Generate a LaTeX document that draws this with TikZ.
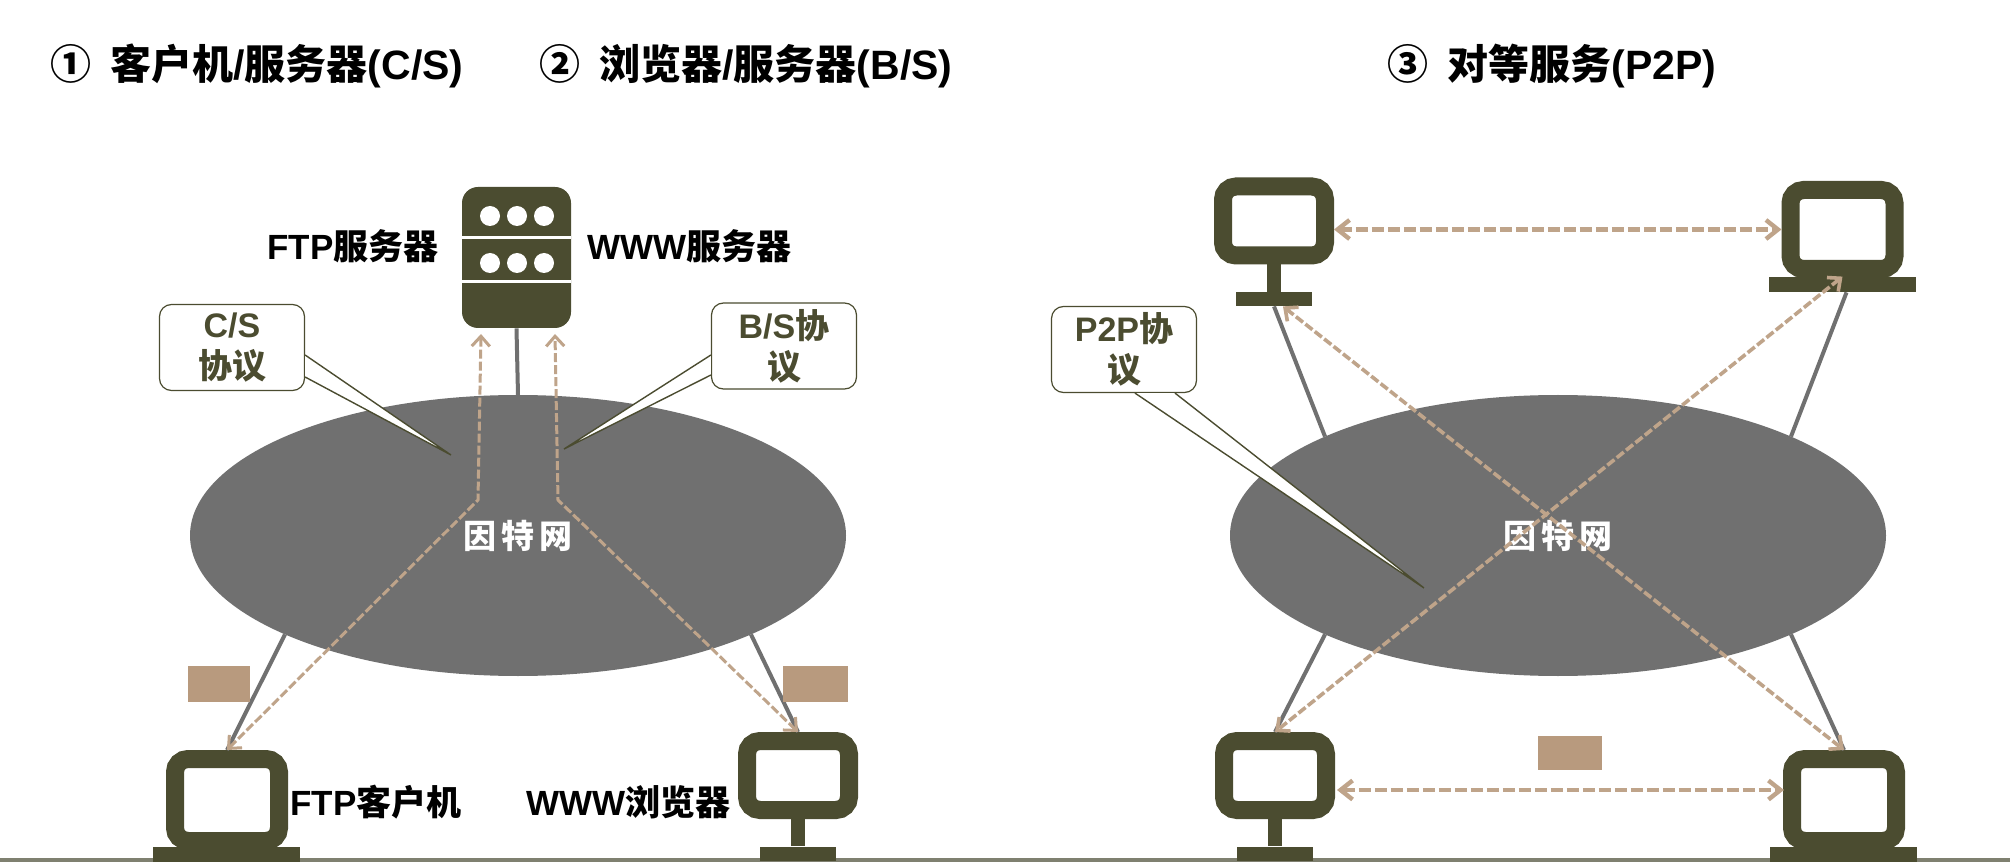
\documentclass[tikz,border=0pt]{standalone}
\usepackage{fontspec}
\setmainfont{Liberation Sans}
\newfontfamily\cjk{Noto Sans CJK SC}
\usepackage{tikz}
\usetikzlibrary{calc,arrows.meta,shapes.geometric}
\definecolor{olivedark}{HTML}{4B4C30}
\definecolor{cloudgray}{HTML}{707070}
\definecolor{tanbox}{HTML}{B89A7E}
\definecolor{tandash}{HTML}{BFA48A}
\definecolor{groundgray}{HTML}{7F8070}
\tikzset{
  monitor/.style={draw=olivedark,line width=9pt,fill=white,rounded corners=6.5pt,minimum width=51pt,minimum height=34.5pt,inner sep=0pt},
  laptop/.style={monitor,minimum width=52pt,minimum height=41pt},
  pcbase/.style={fill=olivedark,minimum width=38pt,minimum height=7pt,inner sep=0pt},
  lapbase/.style={fill=olivedark,minimum width=73.5pt,minimum height=7.5pt,inner sep=0pt},
  cloud/.style={ellipse,fill=cloudgray,minimum width=328pt,minimum height=140.5pt,inner sep=0pt,outer sep=0pt,text=white,font=\cjk\bfseries\fontsize{16.5}{18}\selectfont},
  tagbox/.style={draw=olivedark,line width=.6pt,fill=white,rounded corners=6pt,minimum width=72.5pt,minimum height=43pt,inner sep=0pt,align=center,text=olivedark,font=\bfseries\fontsize{17}{20.5}\selectfont},
  tagline/.style={draw=olivedark,line width=.7pt},
  label/.style={font=\bfseries\fontsize{17.5}{20}\selectfont,inner sep=0pt,anchor=west},
  headline/.style={font=\bfseries\fontsize{20.5}{24}\selectfont,inner sep=0pt,anchor=west},
  wire/.style={draw=cloudgray,line width=2pt},
  thindash/.style={draw=tandash,line width=1.5pt,dash pattern=on 4.5pt off 1.5pt,<->,>={Straight Barb[length=5pt,width=9pt]}},
  thickdash/.style={draw=tandash,line width=2.2pt,dash pattern=on 6pt off 2pt,<->,>={Straight Barb[length=6pt,width=9.5pt]}},
  tanpatch/.style={fill=tanbox,inner sep=0pt}
}
\newcommand{\tagtail}[3]{
  \fill[white] (#1) -- (#3) -- (#2) -- cycle;
  \draw[tagline] (#1) -- (#3) -- (#2);
}
\begin{document}
\begin{tikzpicture}[x=.5pt,y=-.5pt]
  \useasboundingbox (0,0) rectangle (2010,866);
  \fill[white] (0,0) rectangle (2010,866);

  % titles
  \node[headline] (titleCS) at (50,66) {{\cjk ①}\hspace{9.5pt}{\cjk 客户机}/{\cjk 服务器}(C/S)};
  \node[headline] (titleBS) at (539,66) {{\cjk ②}\hspace{9.5pt}{\cjk 浏览器}/{\cjk 服务器}(B/S)};
  \node[headline] (titleP2P) at (1387,66) {{\cjk ③}\hspace{9.5pt}{\cjk 对等服务}(P2P)};

  % ground line
  \draw[draw=groundgray,line width=2pt] (0,860) -- (2010,860);

  % clouds
  \node[cloud] (netA) at (518,535.5) {\raisebox{-1.5pt}{因\hspace{2.5pt}特\hspace{2.5pt}网}};
  \node[cloud] (netB) at (1558,535.5) {\raisebox{-1.5pt}{因\hspace{2.5pt}特\hspace{2.5pt}网}};

  % server
  \node[fill=olivedark,rounded corners=8pt,minimum width=54.5pt,minimum height=70.5pt,inner sep=0pt] (server) at (516.5,257.5) {};
  \fill[white] (490,216) circle (5pt);
  \fill[white] (517,216) circle (5pt);
  \fill[white] (544,216) circle (5pt);
  \fill[white] (490,263) circle (5pt);
  \fill[white] (517,263) circle (5pt);
  \fill[white] (544,263) circle (5pt);
  \draw[white,line width=1.5pt] (server.west |- 0,238) -- (server.east |- 0,238);
  \draw[white,line width=1.5pt] (server.west |- 0,282) -- (server.east |- 0,282);
  \node[label] (ftpServer) at (267,246) {FTP{\cjk 服务器}};
  \node[label] (wwwServer) at (587,246) {WWW{\cjk 服务器}};
  \draw[wire] (server.south) -- (netA.north);

  % left side computers
  \node[laptop] (ftpClient) at (227,800) {};
  \node[lapbase] (ftpBase) at (226.5,854.5) {};
  \node[monitor] (wwwClient) at (798,775.5) {};
  \node[pcbase] (wwwBase) at (798,853.5) {};
  \draw[olivedark,line width=7pt] (wwwClient.south) -- (wwwBase.north);
  \node[label] (ftpLabel) at (290,802) {FTP{\cjk 客户机}};
  \node[label] (wwwLabel) at (526,802) {WWW{\cjk 浏览器}};
  \draw[wire] (netA.203.5) -- (ftpClient.north);
  \draw[wire] (netA.-23.7) -- (wwwClient.north);

  \node[tanpatch,minimum width=31pt,minimum height=18pt] (patchA) at (219,684) {};
  \node[tanpatch,minimum width=32.5pt,minimum height=18pt] (patchB) at (815.5,684) {};

  % p2p computers
  \node[monitor] (pcTop) at (1274,221) {};
  \node[pcbase] (pcTopBase) at (1274,299) {};
  \draw[olivedark,line width=7pt] (pcTop.south) -- (pcTopBase.north);
  \node[laptop,minimum height=39.5pt] (lapTop) at (1842.5,229.5) {};
  \node[lapbase] (lapTopBase) at (1842.5,284.5) {};
  \node[monitor] (pcLow) at (1275,775.5) {};
  \node[pcbase] (pcLowBase) at (1275,853.5) {};
  \draw[olivedark,line width=7pt] (pcLow.south) -- (pcLowBase.north);
  \node[laptop] (lapLow) at (1844,800) {};
  \node[lapbase] (lapLowBase) at (1843.5,854.5) {};
  \draw[wire] (pcTopBase.south) -- (netB.157);
  \draw[wire] ($(lapTopBase.south)+(4,0)$) -- (netB.23);
  \draw[wire] (netB.203.7) -- (pcLow.north);
  \draw[wire] (netB.-23.7) -- (lapLow.north);
  \node[tanpatch,minimum width=32pt,minimum height=17pt] (patchC) at (1570,753) {};

  % protocol tags
  \node[tagbox] (csTag) at (232,347.5) {C/S\\{\cjk 协议}};
  \coordinate (csTip) at (451,455);
  \tagtail{$(csTag.east)+(0,7.5)$}{$(csTag.east)+(0,29.5)$}{csTip}
  \node[tagbox] (bsTag) at (784,346) {B/S{\cjk 协}\\{\cjk 议}};
  \coordinate (bsTip) at (564,449);
  \tagtail{$(bsTag.west)+(0,9)$}{$(bsTag.west)+(0,29)$}{bsTip}
  \node[tagbox] (p2pTag) at (1124,349.5) {P2P{\cjk 协}\\{\cjk 议}};
  \coordinate (p2pTip) at (1424,588);
  \tagtail{$(p2pTag.south)+(11,0)$}{$(p2pTag.south)+(51,0)$}{p2pTip}

  % dashed links
  \coordinate (kneeA) at (478,500);
  \coordinate (kneeB) at (558,500);
  \coordinate (upA) at (481,334);
  \coordinate (upB) at (555,334);
  \draw[thindash] (ftpClient.north) -- (kneeA) -- (upA);
  \draw[thindash] (wwwClient.north) -- (kneeB) -- (upB);
  \draw[thickdash] (pcTop.east |- lapTop.west) -- (lapTop.west);
  \draw[thickdash] ($(pcLow.east)+(2,14.5)$) -- ($(lapLow.west)+(1,-10)$);
  \draw[thindash,line width=1.8pt] ($(pcTopBase.south)+(9,0)$) -- (lapLow.north);
  \draw[thindash,line width=1.8pt] (lapTopBase.north) -- (pcLow.north);
\end{tikzpicture}
\end{document}
